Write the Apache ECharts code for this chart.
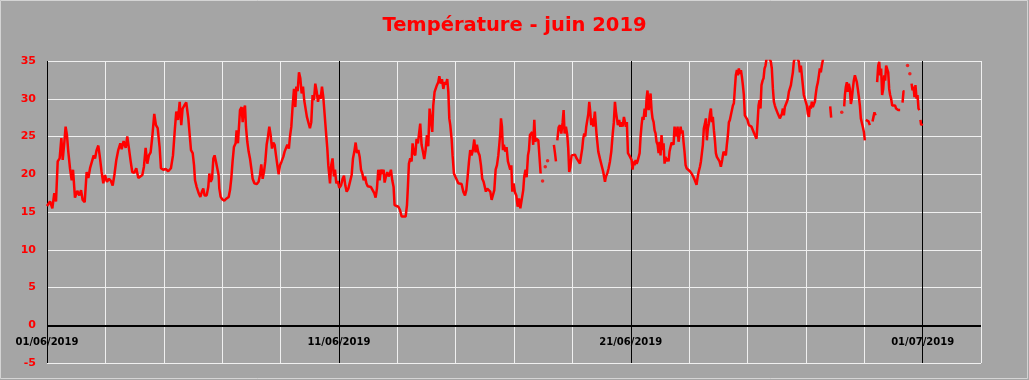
<!DOCTYPE html>
<html><head><meta charset="utf-8">
<script src="https://cdn.jsdelivr.net/npm/echarts@6/dist/echarts.min.js"></script>
<style>html,body{margin:0;padding:0;background:#A5A5A5}#c{width:1029px;height:380px}</style>
</head><body><div id="c"></div><script>
// ---- data (hours since 01/06/2019 00:00, temperature in °C; null = missing) ----
const chartTitle = 'Température - juin 2019';
const xLabelHours = [0, 240, 480, 720];
const yMin = -5, yMax = 35, yStep = 5;
const hours = [
0,2.5,4.4,6.0,7.4,8.8,10.4,11.8,12.9,14.3,15.3,16.4,17.5,18.9,20.3,21.4,23.0,24.9,26.6,28.0,29.3,31.0,32.6,34.0,35.4,36.7,38.4,39.5,40.8,42.2,43.3,44.9,46.3,47.7,49.3,51.0,52.6,54.0,55.4,57.0,58.6,60.3,61.4,63.0,64.7,66.0,67.4,68.8,70.1,71.8,73.4,75.1,76.7,78.4,79.7,81.1,82.5,83.8,85.2,86.6,88.2,89.6,91.0,92.6,93.7,95.6,97.6,99.7,101.9,103.6,105.2,106.3,107.7,109.1,110.4,111.5,112.9,114.5,116.2,
117.6,118.4,119.8,120.9,121.7,123.1,124.7,126.1,127.4,128.5,129.6,131.3,132.6,133.5,134.6,135.7,136.8,137.8,138.9,140.0,141.1,141.7,142.8,144.1,145.8,147.7,149.4,150.5,151.5,152.6,153.7,155.1,155.9,157.0,158.1,158.7,160.0,160.9,161.7,162.8,163.6,164.7,165.8,166.9,168.0,169.1,170.5,172.4,174.0,175.1,176.2,177.3,178.4,179.5,180.6,181.7,182.8,183.9,185.0,186.1,187.2,188.3,189.4,190.5,191.6,192.9,194.3,195.4,196.5,197.6,198.9,199.8,200.9,202.0,203.1,204.2,205.0,206.1,207.2,208.3,209.4,210.5,211.5,212.6,213.7,215.1,216.2,217.3,218.4,219.5,220.6,221.7,222.8,223.9,225.0,226.1,227.2,228.3,229.4,230.5,231.3,232.7,233.7,234.8,235.9,
236.8,237.9,239.0,240.4,241.7,243.1,244.2,245.3,246.4,247.8,249.1,250.5,251.6,252.7,253.8,254.9,256.0,257.1,258.2,259.3,260.4,261.5,262.6,263.7,265.0,266.4,267.8,269.1,270.2,271.3,272.4,273.5,274.6,275.7,276.8,277.6,278.7,279.8,280.9,282.0,282.8,283.9,285.0,285.8,287.2,288.9,290.2,291.6,293.2,294.9,296.0,296.8,297.6,298.7,299.8,300.6,301.7,302.8,303.9,305.0,305.8,306.9,308.0,309.1,310.2,311.3,312.4,313.5,314.6,315.7,316.8,317.6,318.7,319.8,320.6,321.7,322.6,323.7,324.8,325.9,327.0,328.0,329.1,330.0,330.8,331.6,332.7,333.5,334.6,335.7,337.1,338.2,339.6,340.9,342.3,343.7,344.8,345.9,347.0,348.0,349.1,350.2,351.3,352.4,353.5,354.6,355.7,
356.8,357.9,359.0,360.1,360.9,362.0,363.4,364.5,365.6,366.7,367.8,368.9,370.0,371.1,371.9,372.7,373.3,374.1,374.9,375.7,376.8,377.9,379.0,380.1,380.9,381.8,382.6,383.7,384.8,385.9,387.0,388.1,389.2,390.5,391.6,392.4,393.5,394.4,395.5,396.3,397.1,398.2,399.0,399.8,400.7,401.5,402.3,403.1,404.0,404.8,405.9,
406.7,407.5,408.6,409.7,410.6,411.6,414.0,416.8,417.7,418.5,419.0,
419.6,420.7,421.8,422.9,424.0,424.8,425.6,426.7,427.8,428.6,429.4,430.3,431.4,432.7,434.1,435.5,436.8,438.2,439.3,440.1,440.9,441.8,442.6,443.4,444.2,445.1,445.9,446.7,447.5,448.3,449.2,450.5,451.9,453.3,454.6,456.0,457.4,458.8,459.6,460.7,461.8,462.9,464.0,465.1,466.1,467.0,467.8,468.6,469.4,470.5,471.4,472.2,473.3,474.4,
475.2,476.0,476.8,477.7,478.8,479.9,480.7,481.5,482.3,483.1,484.0,484.8,485.6,486.4,487.3,488.1,488.9,489.7,490.5,491.4,492.2,493.0,493.8,494.7,495.5,496.3,497.1,497.9,498.8,499.6,500.4,501.2,502.1,502.9,503.7,504.5,505.3,506.2,507.0,507.8,508.6,509.5,510.3,511.1,511.9,512.7,513.6,514.4,515.2,516.0,516.8,517.7,518.5,519.3,520.1,521.0,521.8,522.6,523.4,524.2,525.1,525.9,527.3,528.6,530.0,531.4,532.7,534.1,534.9,535.8,536.9,537.7,538.5,539.3,540.1,541.0,541.8,542.6,543.4,544.2,545.1,545.9,546.7,547.5,548.4,549.2,550.0,550.8,551.9,553.0,554.1,555.2,556.3,557.4,558.2,559.0,559.9,560.7,561.5,562.3,563.2,564.0,564.8,565.6,566.4,567.3,568.1,568.9,569.7,570.6,571.4,572.2,573.0,573.8,574.9,576.0,577.1,578.2,579.3,580.4,581.5,582.6,583.4,584.3,585.1,585.9,586.7,587.5,588.4,589.2,590.0,590.8,591.7,592.5,593.6,594.4,
595.2,596.0,596.9,597.7,598.5,599.3,600.2,601.0,601.8,602.6,603.4,604.3,605.1,605.9,606.7,607.6,608.4,609.2,610.0,610.8,611.7,612.5,613.3,614.1,614.9,615.8,616.6,617.4,618.2,619.1,619.9,620.7,621.5,622.3,623.2,624.0,624.8,625.6,626.5,627.3,628.1,628.9,629.7,630.6,631.4,632.2,633.0,633.9,634.7,635.5,636.3,637.1,638.2,639.0,640.5,
642.0,644.0,644.8,
650.0,653.5,654.5,
655.5,656.1,656.9,657.7,658.5,659.3,660.2,661.0,661.8,662.6,663.4,664.3,665.1,665.9,666.7,667.6,668.4,669.2,670.0,670.8,671.7,672.5,
672.9,673.3,674.4,675.5,676.6,
677.7,678.8,679.6,680.4,681.3,
682.0,682.6,683.5,684.3,685.1,685.9,686.7,687.6,688.4,689.2,690.0,690.8,691.7,692.5,693.3,694.1,695.0,695.8,696.6,697.4,698.2,699.1,699.9,700.7,701.5,
702.5,703.5,704.3,705.1,
706.4,707.6,708.6,709.5,710.2,
710.9,711.7,712.5,713.3,714.1,715.0,715.8,716.6,717.4,
717.7,718.2,718.8,719.9
];
const temps = [
15.8,16.4,15.5,17.5,16.4,21.7,22.1,24.8,21.9,24.3,26.3,25.2,23.0,20.8,19.2,20.6,16.9,17.8,17.2,17.9,16.6,16.3,20.3,19.5,20.8,20.6,22.5,22.1,23.2,23.8,22.5,20.3,18.8,19.9,19.0,19.4,19.1,18.5,19.9,21.9,23.2,24.1,23.3,24.4,23.5,25.0,23.4,21.7,20.3,20.2,20.8,19.5,19.4,19.9,21.0,23.5,21.4,22.5,22.9,25.0,28.0,26.5,26.1,23.6,20.8,20.6,20.7,20.4,20.8,22.5,26.1,28.3,27.2,29.6,26.5,28.7,29.1,29.5,27.4,
27.2,23.2,22.8,21.2,19.2,18.3,17.5,17.0,17.7,18.1,17.2,17.2,18.3,20.1,19.0,19.4,22.1,22.5,21.7,20.8,19.9,18.1,17.0,16.7,16.5,16.8,17.0,17.9,19.4,21.7,23.6,24.1,25.8,24.1,26.9,28.5,28.9,26.9,28.5,29.1,26.3,24.3,23.0,22.1,20.8,19.4,18.8,18.7,19.0,19.9,21.3,19.4,20.3,21.7,23.9,25.0,26.3,25.2,23.4,24.2,23.9,22.5,21.2,20.0,21.2,21.7,22.3,23.0,22.8,23.9,23.4,25.0,26.3,29.1,31.3,28.9,31.6,31.0,33.5,32.7,30.7,31.6,29.8,29.6,27.6,27.4,26.1,26.9,30.5,29.8,32.0,31.0,29.6,30.5,30.0,31.6,30.2,30.0,25.6,23.4,21.2,18.8,21.2,22.1,19.7,
20.6,18.8,19.1,18.2,18.5,19.4,19.8,18.5,17.7,18.1,18.3,19.9,22.1,23.0,24.2,22.8,23.2,22.3,20.6,20.1,19.2,19.7,18.8,18.4,18.5,18.3,18.3,17.5,16.9,18.1,20.6,19.2,20.6,20.0,20.6,18.9,19.7,20.3,19.7,20.1,20.6,19.2,18.3,15.9,15.7,15.7,15.3,14.4,14.2,14.4,15.9,18.5,21.4,22.1,21.7,24.1,22.8,22.5,24.7,24.1,25.2,26.7,23.9,23.0,22.0,23.2,25.2,23.7,28.7,28.9,25.6,29.1,30.9,31.1,31.8,32.2,33.0,32.0,32.6,31.3,32.2,31.9,32.6,30.9,27.4,26.5,24.7,22.5,20.1,19.7,19.2,18.8,18.9,18.7,17.7,17.2,17.9,19.7,21.7,23.2,22.5,23.2,24.6,22.9,23.9,22.9,22.5,
21.2,19.4,19.0,18.8,17.7,18.1,18.0,17.7,16.6,16.4,17.9,20.6,21.2,22.5,23.9,25.4,27.4,26.3,23.2,23.9,23.0,23.6,21.7,21.9,20.6,21.2,17.7,18.8,17.6,17.2,15.7,16.8,15.5,15.3,17.9,19.7,20.6,19.6,22.5,23.2,25.2,25.0,25.6,23.9,27.2,24.3,24.7,24.5,24.5,24.7,20.1,
null,19.1,null,21.0,null,21.8,null,23.9,22.8,21.7,null,
24.5,26.2,26.5,25.4,26.9,28.5,25.4,26.3,25.2,23.4,20.3,20.9,22.5,22.5,22.6,22.1,21.9,21.4,21.2,23.4,24.7,25.4,25.0,26.3,26.5,28.0,29.6,28.3,26.5,27.4,26.3,28.3,25.2,23.0,22.1,21.2,20.3,19.0,19.7,20.1,20.8,21.7,23.0,25.2,26.9,29.6,28.3,27.4,26.5,27.2,26.3,26.9,26.3,27.6,
27.6,26.3,26.9,22.8,22.5,22.3,21.9,20.6,21.7,21.2,21.9,21.4,21.7,21.7,22.8,25.0,26.5,27.6,27.2,28.7,27.6,30.0,31.1,28.5,29.6,30.7,28.5,27.4,26.9,25.8,25.4,24.3,23.9,22.8,24.3,22.5,25.2,23.2,24.1,21.4,22.3,21.7,22.1,21.7,23.0,23.6,24.2,24.4,23.9,26.3,25.6,25.0,26.3,24.3,25.2,26.3,25.4,25.8,24.3,23.0,21.2,20.8,20.6,20.4,20.1,19.7,19.2,18.6,19.5,20.3,21.0,21.7,22.8,23.9,26.1,26.7,27.4,24.5,26.1,26.7,28.0,28.7,26.9,27.6,25.8,24.5,22.8,22.3,22.3,21.7,21.0,21.9,23.0,23.2,22.5,23.9,25.2,26.9,27.2,27.8,28.0,29.1,29.4,31.3,33.1,33.8,33.1,34.0,33.3,33.8,32.9,31.8,30.5,27.8,27.6,27.2,26.5,26.7,26.3,26.1,25.4,25.0,24.7,26.9,29.1,29.8,28.7,31.8,32.4,32.7,34.0,34.4,35.3,35.8,35.6,35.2,
34.9,34.0,31.3,29.6,29.1,28.7,28.5,28.0,27.8,27.4,27.2,28.0,28.7,27.8,28.9,28.7,29.6,30.0,30.9,30.7,31.8,32.7,33.5,34.9,35.3,35.8,36.0,35.6,34.9,33.5,34.4,33.1,31.8,30.5,30.0,29.8,29.1,28.0,27.6,29.1,28.7,29.6,28.9,29.3,29.6,30.7,31.6,32.2,33.1,34.0,33.5,34.4,35.3,35.8,36.2,
null,29.0,27.5,
null,28.2,null,
29.0,30.5,31.6,32.2,30.9,32.0,31.3,29.3,30.0,31.3,32.4,33.1,32.9,32.2,31.3,30.2,29.1,27.4,27.2,26.3,25.6,24.5,
null,27.2,27.3,27.0,26.5,
null,27.0,27.6,28.2,27.8,
null,32.2,34.4,34.9,33.1,34.0,30.5,31.3,33.1,32.4,34.4,34.6,33.5,31.3,30.5,30.0,29.1,29.3,28.9,29.1,28.7,28.9,28.5,28.5,28.5,
null,29.5,31.0,31.0,
null,34.4,null,33.3,null,
32.0,31.1,31.6,30.2,31.8,30.0,30.5,28.7,28.5,
null,27.2,26.5,26.7
];

// ---- helpers ----
function fmtDate(h) {
  const d = new Date(Date.UTC(2019, 5, 1) + h * 3600000);
  const p = n => String(n).padStart(2, '0');
  return p(d.getUTCDate()) + '/' + p(d.getUTCMonth() + 1) + '/' + d.getUTCFullYear();
}
const lineData = hours.map((h, i) => [h, temps[i]]);
const isolated = [];
temps.forEach((t, i) => {
  if (t === null) return;
  const prev = i > 0 ? temps[i - 1] : null;
  const next = i < temps.length - 1 ? temps[i + 1] : null;
  if (prev === null && next === null) isolated.push([hours[i], t]);
});

const chart = echarts.init(document.getElementById('c'), null, {renderer: 'canvas'});
const labelFont = 'DejaVu Sans';
const gridTop = 61, gridBottom = 17, chartH = 380;
// pixel distance from the bottom of the grid to the value 0 (for the date labels row)
const zeroOffset = (chartH - gridTop - gridBottom) * (0 - yMin) / (yMax - yMin);
chart.setOption({
  animation: false,
  backgroundColor: '#A5A5A5',
  title: {
    text: chartTitle, left: 'center', top: 11,
    textStyle: {color: '#FF0000', fontFamily: labelFont, fontWeight: 'bold', fontSize: 19.5}
  },
  graphic: [{
    type: 'rect', silent: true, z: 100,
    shape: {x: 0.5, y: 0.5, width: 1027, height: 378},
    style: {fill: 'none', stroke: '#D4D4D4', lineWidth: 1}
  }],
  grid: {left: 47, right: 48, top: gridTop, bottom: gridBottom, containLabel: false, outerBoundsMode: 'none'},
  xAxis: [{
    type: 'value', min: 0, max: 768, interval: 48,
    axisLine: {show: false, onZero: false},
    axisTick: {show: false},
    axisLabel: {show: false},
    splitLine: {show: true, lineStyle: {color: '#F0F0F0', width: 1}}
  }, {
    type: 'value', min: 0, max: 768, interval: 240, position: 'bottom', offset: -zeroOffset,
    axisLine: {show: false, onZero: false}, axisTick: {show: false},
    axisLabel: {
      margin: 12, color: '#000000', fontFamily: labelFont, fontWeight: 'bold', fontSize: 10,
      formatter: v => xLabelHours.includes(v) ? fmtDate(v) : ''
    },
    splitLine: {show: true, showMinLine: true, showMaxLine: false, lineStyle: {color: '#000000', width: 1}}
  }],
  yAxis: {
    type: 'value', min: yMin, max: yMax, interval: yStep,
    axisLine: {show: false}, axisTick: {show: false},
    axisLabel: {margin: 11, color: '#FF0000', fontFamily: labelFont, fontWeight: 'bold', fontSize: 11},
    splitLine: {show: true, lineStyle: {color: '#F0F0F0', width: 1}}
  },
  series: [{
    type: 'line', xAxisIndex: 0, data: lineData, showSymbol: false, connectNulls: false,
    clip: true, lineStyle: {color: '#FF0000', width: 2.5}, itemStyle: {color: '#FF0000'}, z: 5,
    markLine: {
      silent: true, symbol: ['none', 'none'], label: {show: false},
      lineStyle: {color: '#000000', width: 2, type: 'solid'},
      emphasis: {disabled: true},
      data: [{yAxis: 0}]
    }
  }, {
    type: 'scatter', xAxisIndex: 0, data: isolated, symbolSize: 3.5,
    itemStyle: {color: '#FF0000'}, z: 5
  }]
});
</script></body></html>
